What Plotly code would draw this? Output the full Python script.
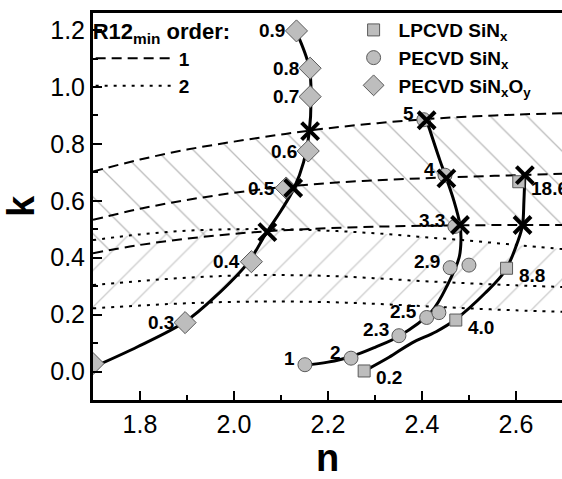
import plotly.graph_objects as go

FONT = "Liberation Sans, Arial, sans-serif"

# ---- boundary lines of R12_min regions (common n grid) ----
n_grid = [1.70, 1.80, 1.90, 2.00, 2.10, 2.20, 2.30, 2.40, 2.50, 2.60, 2.70]
ord1_upper = [0.703, 0.745, 0.780, 0.808, 0.833, 0.855, 0.872, 0.886, 0.896, 0.903, 0.908]
ord1_mid = [0.533, 0.572, 0.603, 0.628, 0.648, 0.662, 0.672, 0.679, 0.685, 0.690, 0.695]
ord1_lower = [0.416, 0.445, 0.467, 0.484, 0.496, 0.504, 0.509, 0.512, 0.514, 0.515, 0.515]
ord2_upper = [0.462, 0.482, 0.495, 0.500, 0.500, 0.495, 0.486, 0.473, 0.460, 0.445, 0.430]
ord2_mid = [0.304, 0.318, 0.330, 0.337, 0.339, 0.336, 0.328, 0.318, 0.310, 0.303, 0.297]
ord2_lower = [0.222, 0.232, 0.240, 0.245, 0.246, 0.244, 0.238, 0.230, 0.222, 0.215, 0.210]

# ---- measured samples ----
lp_n = [2.277, 2.472, 2.580, 2.606]
lp_k = [0.002, 0.181, 0.363, 0.667]
lp_lab = ["0.2", "4.0", "8.8", "18.6"]

pe_n = [2.151, 2.249, 2.351, 2.410, 2.436, 2.460, 2.500, 2.470, 2.449, 2.404]
pe_k = [0.024, 0.047, 0.126, 0.190, 0.207, 0.365, 0.374, 0.510, 0.690, 0.885]
pe_lab = ["1", "2", "2.3", "2.5", "", "2.9", "", "3.3", "4", "5"]

ox_n = [1.700, 1.896, 2.037, 2.111, 2.158, 2.162, 2.162, 2.133]
ox_k = [0.028, 0.172, 0.386, 0.645, 0.775, 0.966, 1.066, 1.197]
ox_lab = ["", "0.3", "0.4", "0.5", "0.6", "0.7", "0.8", "0.9"]

# ---- fitted curves ----
fit_ox_n = [1.704, 1.796, 1.896, 1.960, 2.030, 2.069, 2.100, 2.128, 2.148, 2.160, 2.164, 2.160, 2.133]
fit_ox_k = [0.018, 0.088, 0.175, 0.263, 0.383, 0.488, 0.565, 0.645, 0.735, 0.840, 0.960, 1.070, 1.193]
fit_pe_n = [2.151, 2.200, 2.250, 2.300, 2.350, 2.420, 2.456, 2.479, 2.483, 2.481, 2.468, 2.452, 2.438, 2.410]
fit_pe_k = [0.022, 0.033, 0.053, 0.085, 0.123, 0.210, 0.310, 0.400, 0.460, 0.515, 0.600, 0.679, 0.743, 0.883]
fit_lp_n = [2.282, 2.330, 2.378, 2.430, 2.470, 2.534, 2.577, 2.605, 2.614, 2.617, 2.619]
fit_lp_k = [0.006, 0.050, 0.100, 0.140, 0.181, 0.275, 0.354, 0.462, 0.515, 0.600, 0.690]

# ---- R12_min points on fits ----
min_n = [2.071, 2.126, 2.162, 2.481, 2.452, 2.410, 2.614, 2.619]
min_k = [0.490, 0.645, 0.845, 0.515, 0.679, 0.883, 0.515, 0.690]

fig = go.Figure()

# hatched regions
fig.add_trace(go.Scatter(x=n_grid, y=ord1_lower, mode="lines", line=dict(width=0, shape="spline"),
                         showlegend=False, hoverinfo="skip"))
fig.add_trace(go.Scatter(x=n_grid, y=ord1_upper, mode="lines", line=dict(width=0, shape="spline"),
                         fill="tonexty", fillcolor="rgba(0,0,0,0)",
                         fillpattern=dict(shape="\\", size=26, solidity=0.05,
                                          fgcolor="#777", bgcolor="rgba(0,0,0,0)"),
                         showlegend=False, hoverinfo="skip"))
fig.add_trace(go.Scatter(x=n_grid, y=ord2_lower, mode="lines", line=dict(width=0, shape="spline"),
                         showlegend=False, hoverinfo="skip"))
fig.add_trace(go.Scatter(x=n_grid, y=ord2_upper, mode="lines", line=dict(width=0, shape="spline"),
                         fill="tonexty", fillcolor="rgba(0,0,0,0)",
                         fillpattern=dict(shape="/", size=26, solidity=0.05,
                                          fgcolor="#999", bgcolor="rgba(0,0,0,0)"),
                         showlegend=False, hoverinfo="skip"))

# order-1 (dashed) and order-2 (dotted) lines
for i, yy in enumerate([ord1_upper, ord1_mid, ord1_lower]):
    fig.add_trace(go.Scatter(x=n_grid, y=yy, mode="lines", name="<b>1</b>",
                             line=dict(color="black", width=2, dash="10px,6px", shape="spline"),
                             showlegend=(i == 0), legend="legend2", hoverinfo="skip"))
for i, yy in enumerate([ord2_upper, ord2_mid, ord2_lower]):
    fig.add_trace(go.Scatter(x=n_grid, y=yy, mode="lines", name="<b>2</b>",
                             line=dict(color="black", width=2, dash="3px,6px", shape="spline"),
                             showlegend=(i == 0), legend="legend2", hoverinfo="skip"))

# fits
for fx, fy in [(fit_ox_n, fit_ox_k), (fit_pe_n, fit_pe_k), (fit_lp_n, fit_lp_k)]:
    fig.add_trace(go.Scatter(x=fx, y=fy, mode="lines",
                             line=dict(color="black", width=3, shape="spline", smoothing=1.0),
                             showlegend=False, hoverinfo="skip"))

mk_line = dict(color="#5a5a5a", width=1)
fig.add_trace(go.Scatter(x=lp_n, y=lp_k, mode="markers", name="<b>LPCVD SiN<sub>x</sub></b>",
                         marker=dict(symbol="square", size=12, color="#bdbdbd", line=mk_line)))
fig.add_trace(go.Scatter(x=pe_n, y=pe_k, mode="markers", name="<b>PECVD SiN<sub>x</sub></b>",
                         marker=dict(symbol="circle", size=14, color="#bdbdbd", line=mk_line)))
fig.add_trace(go.Scatter(x=ox_n, y=ox_k, mode="markers",
                         name="<b>PECVD SiN<sub>x</sub>O<sub>y</sub></b>",
                         marker=dict(symbol="diamond", size=17, color="#bdbdbd", line=mk_line)))

fig.add_trace(go.Scatter(x=min_n, y=min_k, mode="markers", showlegend=False,
                         marker=dict(symbol="x-thin", size=17, color="black",
                                     line=dict(color="black", width=4))))

lab_font = dict(family=FONT, size=19, color="black", weight="bold")
for xs, ys, labs, xa, dx, dy in [(ox_n, ox_k, ox_lab, "right", -9, 0),
                                 (pe_n, pe_k, pe_lab, "right", -8, 6),
                                 (lp_n, lp_k, lp_lab, "left", 10, -7)]:
    for x, y, t in zip(xs, ys, labs):
        if t:
            fig.add_annotation(x=x, y=y, text=t, showarrow=False, xanchor=xa,
                               yanchor="middle", xshift=dx, yshift=dy, font=lab_font)

fig.update_layout(
    width=562, height=479,
    margin=dict(l=93, r=0, t=13, b=79),
    paper_bgcolor="white", plot_bgcolor="white",
    font=dict(family=FONT, color="black"),
    legend=dict(x=0.545, y=1.005, xanchor="left", yanchor="top", traceorder="normal",
                bgcolor="rgba(0,0,0,0)", font=dict(family=FONT, size=19, color="black"),
                tracegroupgap=0, itemwidth=40),
    legend2=dict(x=-0.005, y=1.006, xanchor="left", yanchor="top", traceorder="normal",
                 bgcolor="rgba(0,0,0,0)", font=dict(family=FONT, size=19, color="black"),
                 title=dict(text="<b>R12<sub>min</sub> order:</b>",
                            font=dict(family=FONT, size=22, color="black")),
                 itemwidth=78),
    showlegend=True,
)
fig.update_xaxes(range=[1.7, 2.698], showline=True, linewidth=3, linecolor="black",
                 mirror=True, ticks="inside", ticklen=9, tickwidth=2, tickcolor="black",
                 dtick=0.2, tick0=1.8, tickformat=".1f", showgrid=False, zeroline=False,
                 minor=dict(ticks="inside", ticklen=5, tickwidth=2, dtick=0.1, tickcolor="black"),
                 tickfont=dict(family=FONT, size=25, color="black"),
                 title=dict(text="<b>n</b>", font=dict(family=FONT, size=38, color="black"),
                            standoff=6))
fig.update_yaxes(range=[-0.1, 1.26], showline=True, linewidth=3, linecolor="black",
                 mirror=False, ticks="inside", ticklen=9, tickwidth=2, tickcolor="black",
                 dtick=0.2, tick0=0, tickformat=".1f", showgrid=False, zeroline=False,
                 minor=dict(ticks="inside", ticklen=5, tickwidth=2, dtick=0.1, tickcolor="black"),
                 tickfont=dict(family=FONT, size=25, color="black"),
                 title=dict(text="<b>k</b>", font=dict(family=FONT, size=38, color="black"),
                            standoff=8))

fig.write_html("out.html")
